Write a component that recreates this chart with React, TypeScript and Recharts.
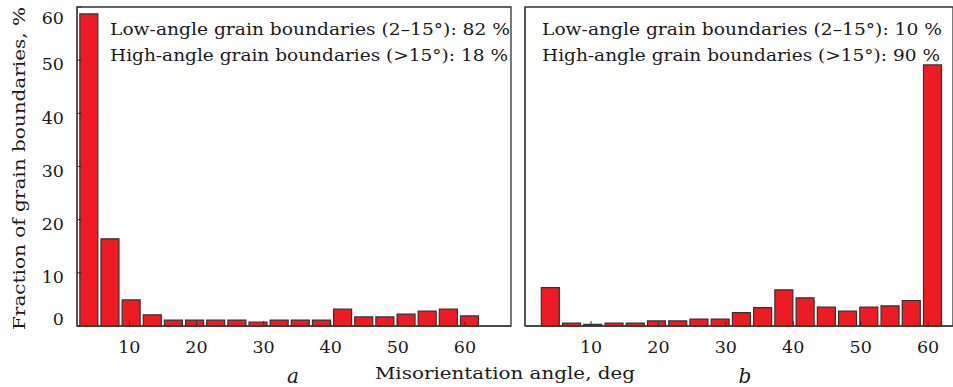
import { ComposedChart, Bar, XAxis, YAxis, ReferenceArea } from "recharts";

// bin centres of the misorientation histogram, deg
const binCenters = [
  3.9, 7.05, 10.2, 13.35, 16.5, 19.65, 22.8, 25.95, 29.1, 32.25, 35.4, 38.55,
  41.7, 44.85, 48.0, 51.15, 54.3, 57.45, 60.6,
];

// fraction of grain boundaries, % (panel a)
const fractionA = [
  58.7, 16.4, 4.9, 2.1, 1.1, 1.1, 1.1, 1.1, 0.75, 1.1, 1.1, 1.1, 3.2, 1.7, 1.7,
  2.25, 2.8, 3.2, 1.9,
];

// fraction of grain boundaries, % (panel b)
const fractionB = [
  7.2, 0.55, 0.3, 0.55, 0.55, 0.95, 0.95, 1.3, 1.3, 2.5, 3.45, 6.8, 5.3, 3.55,
  2.8, 3.55, 3.8, 4.8, 49.1,
];

const xTicks = [10, 20, 30, 40, 50, 60];
const yTicksA = [0, 10, 20, 30, 40, 50, 60];
const yTicksB = [0, 10, 20, 30, 40, 50];

const summaryA = [
  "Low-angle grain boundaries (2–15°): 82 %",
  "High-angle grain boundaries (>15°): 18 %",
];
const summaryB = [
  "Low-angle grain boundaries (2–15°): 10 %",
  "High-angle grain boundaries (>15°): 90 %",
];

const dataA = binCenters.map((angle, i) => ({ angle, value: fractionA[i] }));
const dataB = binCenters.map((angle, i) => ({ angle, value: fractionB[i] }));

const FONT = "'DejaVu Serif', 'Liberation Serif', serif";
const INK = "#1a1a1a";
const EDGE = "#333";
const RED = "#ED1C24";

// the original figure nudges a few labels off their ticks
const yLabelShift: Record<number, number> = { 0: -7, 60: 11 };

function YTick(props: any) {
  const { x, y, payload } = props;
  const shift = yLabelShift[payload.value] ?? 4;
  return (
    <text
      x={x}
      y={y + shift}
      dy="0.355em"
      textAnchor="end"
      fill={INK}
      fontSize={17.5}
      fontFamily={FONT}
    >
      {payload.value}
    </text>
  );
}

const xTickStyle = { fill: INK, fontSize: 17.5, fontFamily: FONT };

export default function App() {
  return (
    <div
      style={{
        position: "absolute",
        left: 0,
        top: 0,
        width: 953,
        height: 387,
        background: "#fff",
        overflow: "hidden",
      }}
    >
      <div style={{ position: "absolute", left: 0, top: 0 }}>
        <ComposedChart
          width={520}
          height={387}
          data={dataA}
          margin={{ top: 7, right: 9, bottom: 31, left: 37 }}
        >
          <XAxis
            dataKey="angle"
            type="number"
            domain={[2.2, 66.85]}
            allowDataOverflow
            ticks={xTicks}
            interval={0}
            height={30}
            tickSize={-5}
            tickMargin={20}
            tick={xTickStyle}
            stroke={EDGE}
          />
          <YAxis
            type="number"
            domain={[0, 60]}
            ticks={yTicksA}
            interval={0}
            width={40}
            tickSize={-5}
            tickMargin={18}
            tick={<YTick />}
            stroke={EDGE}
          />
          <ReferenceArea
            x1={2.2}
            x2={66.85}
            y1={0}
            y2={60}
            fill="none"
            stroke={EDGE}
            strokeWidth={1.3}
            fillOpacity={0}
          />
          <Bar
            dataKey="value"
            fill={RED}
            stroke={EDGE}
            strokeWidth={1.2}
            barSize={18}
            isAnimationActive={false}
          />
        </ComposedChart>
      </div>

      <div style={{ position: "absolute", left: 515, top: 0 }}>
        <ComposedChart
          width={438}
          height={387}
          data={dataB}
          margin={{ top: 7, right: 0, bottom: 31, left: 5 }}
        >
          <XAxis
            dataKey="angle"
            type="number"
            domain={[0.2, 63.7]}
            allowDataOverflow
            ticks={xTicks}
            interval={0}
            height={30}
            tickSize={-5}
            tickMargin={20}
            tick={xTickStyle}
            stroke={EDGE}
          />
          <YAxis
            type="number"
            domain={[0, 60]}
            ticks={yTicksB}
            interval={0}
            width={5}
            tickSize={-5}
            tick={false}
            stroke={EDGE}
          />
          <ReferenceArea
            x1={0.2}
            x2={63.7}
            y1={0}
            y2={60}
            fill="none"
            stroke={EDGE}
            strokeWidth={1.3}
            fillOpacity={0}
          />
          <Bar
            dataKey="value"
            fill={RED}
            stroke={EDGE}
            strokeWidth={1.2}
            barSize={18}
            isAnimationActive={false}
          />
        </ComposedChart>
      </div>

      <svg
        width={953}
        height={387}
        style={{ position: "absolute", left: 0, top: 0, pointerEvents: "none" }}
        fontFamily={FONT}
        fill={INK}
      >
        {summaryA.map((line, i) => (
          <text
            key={`a${i}`}
            x={110}
            y={35 + i * 25.5}
            fontSize={17}
            textLength={i === 0 ? 400 : 398}
            lengthAdjust="spacingAndGlyphs"
          >
            {line}
          </text>
        ))}
        {summaryB.map((line, i) => (
          <text
            key={`b${i}`}
            x={542}
            y={35 + i * 25.5}
            fontSize={17}
            textLength={i === 0 ? 400 : 398}
            lengthAdjust="spacingAndGlyphs"
          >
            {line}
          </text>
        ))}
        <text
          x={25}
          y={168.5}
          fontSize={17.5}
          textAnchor="middle"
          textLength={323}
          lengthAdjust="spacingAndGlyphs"
          transform="rotate(-90 25 168.5)"
        >
          Fraction of grain boundaries, %
        </text>
        <text
          x={505}
          y={378.5}
          fontSize={17.5}
          textAnchor="middle"
          textLength={260}
          lengthAdjust="spacingAndGlyphs"
        >
          Misorientation angle, deg
        </text>
        <text x={293} y={383} fontSize={20} fontStyle="italic" textAnchor="middle">
          a
        </text>
        <text x={745} y={383} fontSize={20} fontStyle="italic" textAnchor="middle">
          b
        </text>
      </svg>
    </div>
  );
}
